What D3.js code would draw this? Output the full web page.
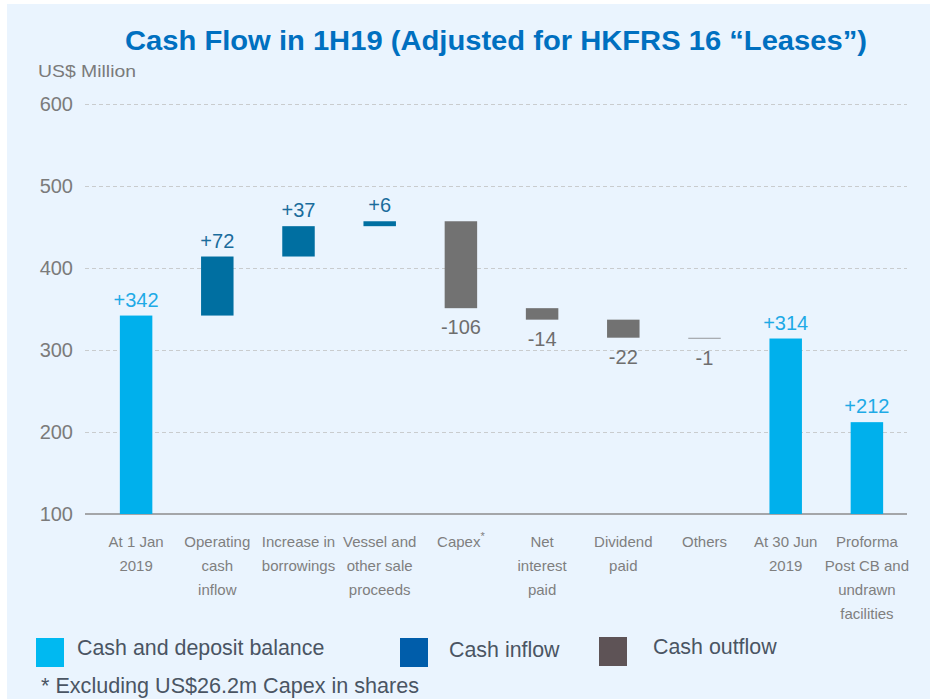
<!DOCTYPE html>
<html>
<head>
<meta charset="utf-8">
<script src="https://cdn.jsdelivr.net/npm/d3@7"></script>
<style>
  body { margin: 0; background: #fff; }
  svg text { font-family: "Liberation Sans", Arial, sans-serif; }
</style>
</head>
<body>
<div id="graphic"></div>
<script>
// categories (line breaks as \n), kind of each bar and the value shown on it
var categories = [
  "At 1 Jan\n2019",
  "Operating\ncash\ninflow",
  "Increase in\nborrowings",
  "Vessel and\nother sale\nproceeds",
  "Capex*",
  "Net\ninterest\npaid",
  "Dividend\npaid",
  "Others",
  "At 30 Jun\n2019",
  "Proforma\nPost CB and\nundrawn\nfacilities"
];
var kinds = ["balance", "inflow", "inflow", "inflow", "outflow", "outflow", "outflow", "outflow", "balance", "balance"];
var values = [342, 72, 37, 6, -106, -14, -22, -1, 314, 212];
var yTicks = [100, 200, 300, 400, 500, 600];

var legendNames = ["Cash and deposit balance", "Cash inflow", "Cash outflow"];

var w = 930, h = 699;

var barColor = { balance: "#00b0ec", inflow: "#006fa1", outflow: "#727272" };
var labelColor = { balance: "#1eaae6", inflow: "#1a6c9c", outflow: "#6e6e6e" };
var legendColor = { balance: "#00b9f1", inflow: "#005daa", outflow: "#5e5356" };

var svg = d3.select("#graphic")
  .append("svg")
  .attr("width", w)
  .attr("height", h);

// page background, white strip on top and left like the slide crop
svg.append("rect").attr("width", w).attr("height", h).attr("fill", "#ffffff");
svg.append("rect")
  .attr("x", 7).attr("y", 4)
  .attr("width", w - 7).attr("height", h - 4)
  .attr("fill", "#eaf4fe");

var xScale = d3.scaleBand()
  .domain(d3.range(categories.length))
  .range([95.5, 907.5])
  .paddingInner(0.6)
  .paddingOuter(0.3);

var yScale = d3.scaleLinear()
  .domain([100, 600])
  .range([514, 104]);

var left = 85, right = 907;

// grid + tick labels
var yAxis = svg.append("g")
  .attr("transform", "translate(" + left + ",0)")
  .call(d3.axisLeft(yScale).tickValues(yTicks).tickSize(-(right - left)).tickPadding(12));
yAxis.select(".domain").remove();
yAxis.selectAll(".tick line")
  .attr("stroke", "#c9ccce")
  .attr("stroke-width", 1.2)
  .attr("stroke-dasharray", "4,3")
  .filter(function(d){ return d === 100; })
  .remove();
yAxis.selectAll(".tick text")
  .attr("fill", "#7b7b7b")
  .style("font-size", "20px");

// base line
svg.append("line")
  .attr("x1", left).attr("x2", right)
  .attr("y1", yScale(100)).attr("y2", yScale(100))
  .attr("stroke", "#8c8c8c")
  .attr("stroke-width", 1.6);

// waterfall bars
var running = 0;
var bars = [];
for (let i = 0; i < values.length; i++) {
  let lo, hi;
  if (kinds[i] === "balance") {
    lo = yScale.domain()[0];
    hi = values[i];
    running = values[i];
  } else {
    lo = running;
    hi = running + values[i];
    running = hi;
  }
  bars.push({ i: i, kind: kinds[i], v: values[i], top: Math.max(lo, hi), bottom: Math.min(lo, hi) });
}

svg.selectAll("rect.bar")
  .data(bars)
  .enter()
  .append("rect")
  .attr("class", "bar")
  .attr("x", function(d){ return xScale(d.i); })
  .attr("width", xScale.bandwidth())
  .attr("y", function(d){ return yScale(d.top); })
  .attr("height", function(d){ return Math.max(1.3, yScale(d.bottom) - yScale(d.top)); })
  .attr("fill", function(d){ return barColor[d.kind]; })
  .attr("fill-opacity", function(d){ return Math.abs(d.v) < 2 ? 0.55 : 1; });

// value labels
svg.selectAll("text.val")
  .data(bars)
  .enter()
  .append("text")
  .attr("class", "val")
  .attr("x", function(d){ return xScale(d.i) + xScale.bandwidth() / 2; })
  .attr("y", function(d){
    return d.v >= 0 ? yScale(d.top) - 9 : yScale(d.bottom) + 26;
  })
  .attr("text-anchor", "middle")
  .attr("fill", function(d){ return labelColor[d.kind]; })
  .style("font-size", "20px")
  .text(function(d){ return (d.v > 0 ? "+" : "") + d.v; });

// category labels
categories.forEach(function(c, i){
  let lines = c.split("\n");
  let t = svg.append("text")
    .attr("x", xScale(i) + xScale.bandwidth() / 2)
    .attr("y", 547)
    .attr("text-anchor", "middle")
    .attr("fill", "#7f7f7f")
    .style("font-size", "15px");
  lines.forEach(function(line, k){
    let star = line.endsWith("*");
    t.append("tspan")
      .attr("x", xScale(i) + xScale.bandwidth() / 2)
      .attr("dy", k === 0 ? 0 : 24)
      .text(star ? line.slice(0, -1) : line);
    if (star) {
      t.append("tspan")
        .attr("dy", -7)
        .style("font-size", "11px")
        .text("*");
    }
  });
});

// title and unit
svg.append("text")
  .attr("x", 125).attr("y", 50)
  .attr("fill", "#0070c0")
  .attr("font-weight", "bold")
  .attr("textLength", 742)
  .attr("lengthAdjust", "spacingAndGlyphs")
  .style("font-size", "28px")
  .text("Cash Flow in 1H19 (Adjusted for HKFRS 16 \u201cLeases\u201d)");

svg.append("text")
  .attr("x", 38).attr("y", 77)
  .attr("fill", "#7b7b7b")
  .attr("textLength", 98)
  .attr("lengthAdjust", "spacingAndGlyphs")
  .style("font-size", "17px")
  .text("US$ Million");

// legend
var legendX = [36, 400, 599];
var legendY = [638, 638, 637];
var legendTextX = [77, 449, 653];
var legendTextY = [655, 657, 654];
var legendKinds = ["balance", "inflow", "outflow"];
legendNames.forEach(function(name, i){
  svg.append("rect")
    .attr("x", legendX[i]).attr("y", legendY[i])
    .attr("width", 28).attr("height", 29)
    .attr("fill", legendColor[legendKinds[i]]);
  svg.append("text")
    .attr("x", legendTextX[i]).attr("y", legendTextY[i])
    .attr("fill", "#4a5563")
    .style("font-size", "21.4px")
    .text(name);
});

svg.append("text")
  .attr("x", 41).attr("y", 693)
  .attr("fill", "#4a5563")
  .style("font-size", "21.6px")
  .text("* Excluding US$26.2m Capex in shares");
</script>
</body>
</html>
